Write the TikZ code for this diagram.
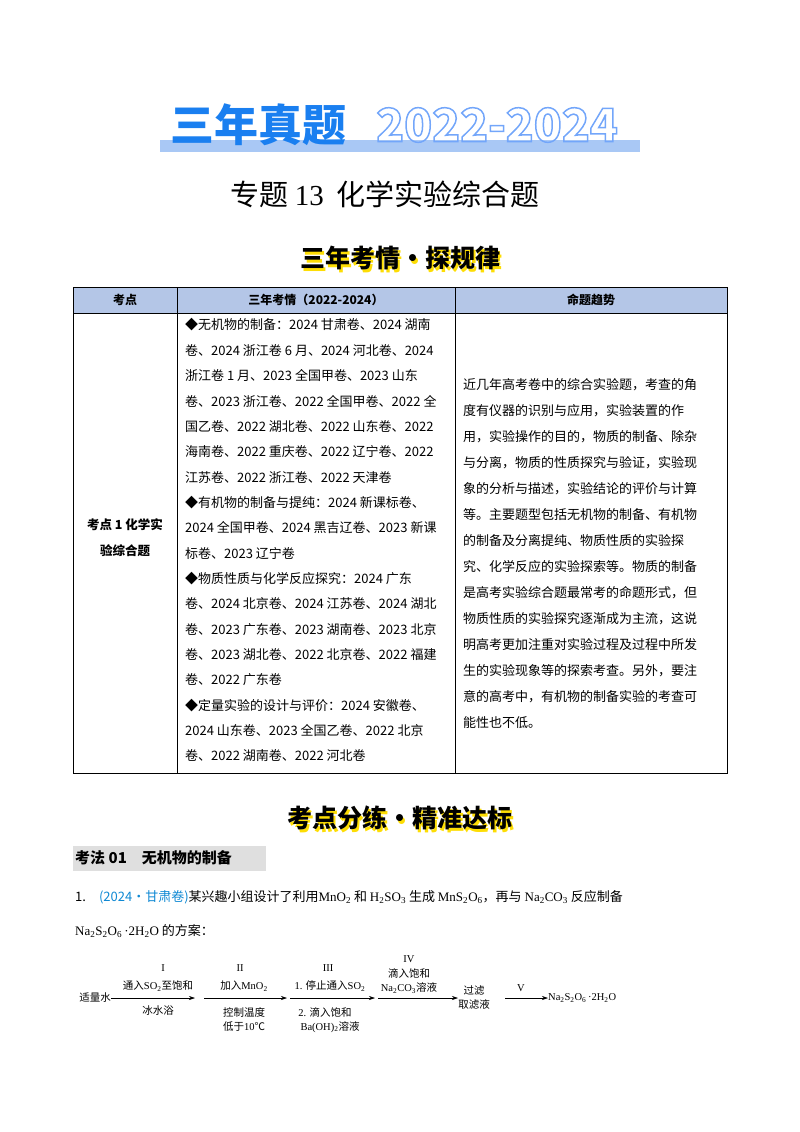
\documentclass[tikz,border=0pt]{standalone}
\usepackage{fontspec}
\setmainfont{Noto Sans CJK SC}
\newfontfamily\serifl{Liberation Serif}
\usetikzlibrary{arrows.meta}
\definecolor{bannerblue}{HTML}{1A7FF0}
\definecolor{barblue}{HTML}{A9C8F5}
\definecolor{headblue}{HTML}{B4C6E7}
\begin{document}
\begin{tikzpicture}[x=1pt,y=-1pt,
  body/.style={anchor=west,inner sep=0pt,font=\fontsize{13}{13}\selectfont},
  small/.style={inner sep=0pt,font=\fontsize{10.5}{11}\selectfont},
  flow/.style={-{Stealth[length=6pt,width=4pt]},line width=0.6pt}]
\useasboundingbox (0,0) rectangle (800,1132);
% banner
\fill[barblue] (160,140) rectangle (640,152);
\node[inner sep=0pt,text=bannerblue,font=\fontsize{44}{44}\selectfont\bfseries] (t1) at (258,125) {三年真题};
\node[inner sep=0pt,font=\fontsize{46}{46}\selectfont\bfseries] (t2) at (497,125) {\special{pdf:literal q 1 Tr 1.5 w 0.45 0.65 0.98 RG}2022-2024\special{pdf:literal Q}};
\node[inner sep=0pt,font=\fontsize{29}{29}\selectfont] (title) at (385,194) {专题 {\serifl 13}\ \ 化学实验综合题};
\node[inner sep=0pt,text=yellow!80!orange,font=\fontsize{25}{25}\selectfont\bfseries] at (402,261) {三年考情·探规律};
\node[inner sep=0pt,font=\fontsize{25}{25}\selectfont\bfseries] (s1) at (400,258) {三年考情·探规律};
% table
\fill[headblue] (73,287) rectangle (727,313);
\draw[line width=0.8pt] (73,287) rectangle (727,773);
\draw[line width=0.6pt] (73,313) -- (727,313) (177,287) -- (177,773) (455,287) -- (455,773);
\node[inner sep=0pt,font=\fontsize{12}{12}\selectfont\bfseries] (h1) at (125,300) {考点};
\node[inner sep=0pt,font=\fontsize{12}{12}\selectfont\bfseries] (h2) at (316,300) {三年考情（2022-2024）};
\node[inner sep=0pt,font=\fontsize{12}{12}\selectfont\bfseries] (h3) at (591,300) {命题趋势};
\node[inner sep=0pt,align=center,font=\fontsize{12.5}{26}\selectfont\bfseries] (c1) at (125,538) {考点 1 化学实\\验综合题};
\foreach \t [count=\i] in {◆无机物的制备：2024 甘肃卷、2024 湖南,
 卷、2024 浙江卷 6 月、2024 河北卷、2024,
 浙江卷 1 月、2023 全国甲卷、2023 山东,
 卷、2023 浙江卷、2022 全国甲卷、2022 全,
 国乙卷、2022 湖北卷、2022 山东卷、2022,
 海南卷、2022 重庆卷、2022 辽宁卷、2022,
 江苏卷、2022 浙江卷、2022 天津卷,
 ◆有机物的制备与提纯：2024 新课标卷、,
 2024 全国甲卷、2024 黑吉辽卷、2023 新课,
 标卷、2023 辽宁卷,
 ◆物质性质与化学反应探究：2024 广东,
 卷、2024 北京卷、2024 江苏卷、2024 湖北,
 卷、2023 广东卷、2023 湖南卷、2023 北京,
 卷、2023 湖北卷、2022 北京卷、2022 福建,
 卷、2022 广东卷,
 ◆定量实验的设计与评价：2024 安徽卷、,
 2024 山东卷、2023 全国乙卷、2022 北京,
 卷、2022 湖南卷、2022 河北卷}
 \node[body] (m\i) at (185,{325+(\i-1)*25.35}) {\t};
\foreach \t [count=\i] in {近几年高考卷中的综合实验题，考查的角,
 度有仪器的识别与应用，实验装置的作,
 用，实验操作的目的，物质的制备、除杂,
 与分离，物质的性质探究与验证，实验现,
 象的分析与描述，实验结论的评价与计算,
 等。主要题型包括无机物的制备、有机物,
 的制备及分离提纯、物质性质的实验探,
 究、化学反应的实验探索等。物质的制备,
 是高考实验综合题最常考的命题形式，但,
 物质性质的实验探究逐渐成为主流，这说,
 明高考更加注重对实验过程及过程中所发,
 生的实验现象等的探索考查。另外，要注,
 意的高考中，有机物的制备实验的考查可,
 能性也不低。}
 \node[body] (r\i) at (463,{385+(\i-1)*26}) {\t};
% section headers
\node[inner sep=0pt,text=yellow!80!orange,font=\fontsize{25}{25}\selectfont\bfseries] at (402,821) {考点分练·精准达标};
\node[inner sep=0pt,font=\fontsize{25}{25}\selectfont\bfseries] (s2) at (400,818) {考点分练·精准达标};
\fill[gray!25] (73,846) rectangle (266,871);
\node[body,font=\fontsize{15}{15}\selectfont\bfseries] (k1) at (75,858) {考法 01\quad 无机物的制备};
\node[body] (q1) at (75,897) {1.\quad {\color{cyan!70!blue}(2024·甘肃卷)}某兴趣小组设计了利用{\serifl MnO\textsubscript{2}} 和 {\serifl H\textsubscript{2}SO\textsubscript{3}} 生成 {\serifl MnS\textsubscript{2}O\textsubscript{6}}，再与 {\serifl Na\textsubscript{2}CO\textsubscript{3}} 反应制备};
\node[body] (q2) at (75,931) {{\serifl Na\textsubscript{2}S\textsubscript{2}O\textsubscript{6}\,·2H\textsubscript{2}O} 的方案：};
% flow
\node[small] (w) at (95,998) {适量水};
\coordinate (a1) at (195,998);
\coordinate (b2) at (204,998);\coordinate (a2) at (287,998);
\coordinate (b3) at (290,998);\coordinate (a3) at (375,998);
\coordinate (b4) at (378,998);\coordinate (a4) at (458,998);
\node[small,align=center] (f) at (474,998) {过滤\\[3pt]取滤液};
\coordinate (b5) at (505,998);
\node[small,anchor=west] (p) at (548,998) {\serifl Na\textsubscript{2}S\textsubscript{2}O\textsubscript{6}\,·2H\textsubscript{2}O};
\draw[flow] (w.east) -- (a1);
\draw[flow] (b2) -- (a2);
\draw[flow] (b3) -- (a3);
\draw[flow] (b4) -- (a4);
\draw[flow] (b5) -- (p.west);
\node[small] at (163,968) {\serifl I};
\node[small] at (158,986) {通入{\serifl SO\textsubscript{2}}至饱和};
\node[small] at (158,1011) {冰水浴};
\node[small] at (240,968) {\serifl II};
\node[small] at (244,986) {加入{\serifl MnO\textsubscript{2}}};
\node[small] at (244,1012) {控制温度};
\node[small] at (244,1027) {低于{\serifl 10}℃};
\node[small] at (328,968) {\serifl III};
\node[small] at (330,986) {{\serifl 1.} 停止通入{\serifl SO\textsubscript{2}}};
\node[small] at (325,1012) {{\serifl 2.} 滴入饱和};
\node[small] at (330,1027) {{\serifl Ba(OH)\textsubscript{2}}溶液};
\node[small] at (409,959) {\serifl IV};
\node[small] at (409,973) {滴入饱和};
\node[small] at (409,988) {{\serifl Na\textsubscript{2}CO\textsubscript{3}}溶液};
\node[small] at (521,988) {\serifl V};
\end{tikzpicture}
\end{document}
